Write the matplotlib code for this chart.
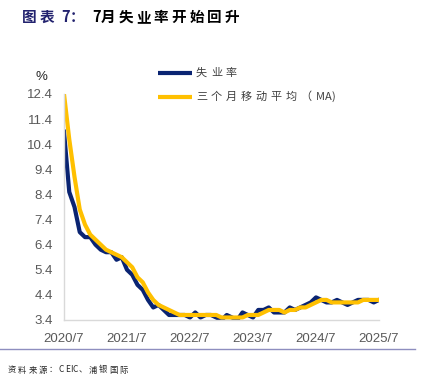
import matplotlib.pyplot as plt
from matplotlib.lines import Line2D

plt.rcParams['font.family'] = ['Noto Sans CJK SC', 'DejaVu Sans']

# monthly, 2020/7 .. 2025/7
unemp = [10.9, 8.5, 7.9, 6.9, 6.7, 6.7,
         6.4, 6.2, 6.1, 6.1, 5.8, 5.9, 5.4, 5.2, 4.8, 4.6, 4.2, 3.9,
         4.0, 3.8, 3.6, 3.6, 3.6, 3.6, 3.5, 3.7, 3.5, 3.6, 3.6, 3.5,
         3.4, 3.6, 3.5, 3.4, 3.7, 3.6, 3.5, 3.8, 3.8, 3.9, 3.7, 3.7,
         3.7, 3.9, 3.8, 3.9, 4.0, 4.1, 4.3, 4.2, 4.1, 4.1, 4.2, 4.1,
         4.0, 4.1, 4.2, 4.2, 4.2, 4.1, 4.2]
ma3 = [12.4, 10.6, 9.1, 7.8, 7.2, 6.8,
       6.6, 6.4, 6.2, 6.1, 6.0, 5.9, 5.7, 5.5, 5.1, 4.9, 4.5, 4.2,
       4.0, 3.9, 3.8, 3.7, 3.6, 3.6, 3.6, 3.6, 3.6, 3.6, 3.6, 3.6,
       3.5, 3.5, 3.5, 3.5, 3.5, 3.6, 3.6, 3.6, 3.7, 3.8, 3.8, 3.8,
       3.7, 3.8, 3.8, 3.9, 3.9, 4.0, 4.1, 4.2, 4.2, 4.1, 4.1, 4.1,
       4.1, 4.1, 4.1, 4.2, 4.2, 4.2, 4.2]
xlabels = ['2020/7', '2021/7', '2022/7', '2023/7', '2024/7', '2025/7']
yticks = [3.4, 4.4, 5.4, 6.4, 7.4, 8.4, 9.4, 10.4, 11.4, 12.4]
series_names = ['失业率', '三个月移动平均（MA)']

navy = '#0A2472'
gold = '#FFC000'
grey = '#595959'

W, H = 428, 384
fig = plt.figure(figsize=(W / 100, H / 100), dpi=100)
renderer = fig.canvas.get_renderer()


def spaced(x, y, s, track, **kw):
    # draw text char by char, extra spacing after CJK chars (pixel coords, top-left origin)
    for ch in s:
        t = fig.text(x / W, 1 - y / H, ch, va='center', ha='left', **kw)
        x += t.get_window_extent(renderer).width
        x += track if ord(ch) > 0x2000 else 0.4
    return x


ax = fig.add_axes([64 / W, 1 - 320 / H, 315 / W, 226 / H])

x = list(range(len(unemp)))
ax.plot(x, unemp, color=navy, lw=3, solid_joinstyle='round')
ax.plot(x, ma3, color=gold, lw=3, solid_joinstyle='round')

ax.set_xlim(0, 60)
ax.set_ylim(3.4, 12.4)
ax.set_yticks(yticks)
ax.set_yticklabels([f'{v:.1f}' for v in yticks])
ax.set_xticks(range(0, 61, 12))
ax.set_xticklabels(xlabels)
ax.tick_params(length=0, colors=grey, labelsize=9.5, pad=8)
ax.tick_params(axis='x', pad=9)
for lab in ax.get_xticklabels() + ax.get_yticklabels():
    lab.set_family('Liberation Sans')
for s in ['top', 'right']:
    ax.spines[s].set_visible(False)
for s in ['left', 'bottom']:
    ax.spines[s].set_color('#d9d9d9')
    ax.spines[s].set_linewidth(1)

fig.text(47 / W, 1 - 77 / H, '%', ha='right', va='center',
         fontsize=9.5, color='#262626', family='Liberation Sans')

# legend
for (yy, col, name) in zip([73, 97], [navy, gold], series_names):
    fig.add_artist(Line2D([158 / W, 192 / W], [1 - yy / H, 1 - yy / H],
                          color=col, lw=3, solid_capstyle='butt'))
    spaced(196, yy, name, 3.8, fontsize=8, color='#404040')

# title
spaced(22, 17, '图表 7：', 3, fontsize=10.5, fontweight='bold', color='#22226E')
spaced(92, 17, '7月失业率开始回升', 3, fontsize=10.5, fontweight='bold',
       color='black')

fig.add_artist(Line2D([0.0, 0.97], [1 - 349 / H, 1 - 349 / H],
                      color='#8E8EBF', lw=1))
spaced(8, 370, '资料来源：CEIC、浦银国际', 1.8, fontsize=6, color='#262626')

fig.savefig('out.png', dpi=100)
